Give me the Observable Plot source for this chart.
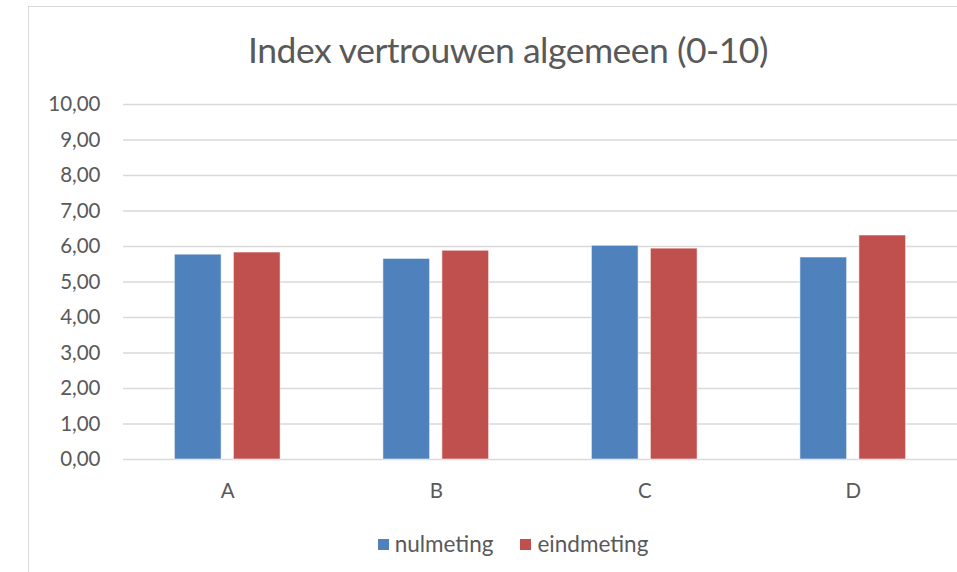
<!DOCTYPE html>
<html>
<head>
<meta charset="utf-8">
<script src="https://cdn.jsdelivr.net/npm/d3@7"></script>
<script src="https://cdn.jsdelivr.net/npm/@observablehq/plot@0.6"></script>
<style>
  html, body { margin: 0; padding: 0; background: #fff; }
  #wrap { position: relative; width: 957px; height: 572px; overflow: hidden; font-family: Lato, "Open Sans", sans-serif; }
  #frame { position: absolute; left: 28px; top: 6px; width: 1000px; height: 600px; border-left: 1.5px solid #d9d9d9; border-top: 1.5px solid #d9d9d9; box-sizing: border-box; }
  #chart { position: absolute; left: 0; top: 0; }
  #title { position: absolute; left: 0; width: 1016px; top: 30px; text-align: center; font-size: 35.5px; letter-spacing: -0.5px; color: #595959; line-height: 40px; }
  #legend { position: absolute; left: 0; width: 1026px; top: 531px; display: flex; justify-content: center; gap: 27px; font-size: 22.5px; color: #595959; line-height: 26px; }
  .item { display: flex; align-items: center; gap: 6px; }
  .sw { width: 11px; height: 11px; display: inline-block; }
</style>
</head>
<body>
<div id="wrap">
  <div id="frame"></div>
  <div id="chart"></div>
  <div id="title">Index vertrouwen algemeen (0-10)</div>
  <div id="legend"></div>
</div>
<script>
const categories = ["A", "B", "C", "D"];
const nulmeting = [5.77, 5.65, 6.02, 5.69];
const eindmeting = [5.83, 5.88, 5.94, 6.31];
const seriesNames = ["nulmeting", "eindmeting"];
const seriesColors = ["#4F81BD", "#C0504D"];
const yTicks = [0, 1, 2, 3, 4, 5, 6, 7, 8, 9, 10];

const dataN = categories.map((c, i) => ({category: c, value: nulmeting[i]}));
const dataE = categories.map((c, i) => ({category: c, value: eindmeting[i]}));

const fmt = d => d.toFixed(2).replace(".", ",");
const gapHalf = 59;

const chart = Plot.plot({
  width: 957,
  height: 572,
  marginLeft: 123,
  marginRight: 0,
  marginTop: 104,
  marginBottom: 113,
  style: {fontFamily: "Lato, 'Open Sans', sans-serif", color: "#595959", background: "transparent", overflow: "visible"},
  x: {domain: categories, paddingInner: 0.493, paddingOuter: 0.2465, round: false, label: null},
  y: {domain: [0, 10], label: null},
  marks: [
    Plot.ruleY(yTicks, {stroke: "#d9d9d9", strokeWidth: 1.5}),
    Plot.barY(dataN, {x: "category", y: "value", fill: seriesColors[0], stroke: "#ffffff", strokeOpacity: 0.55, strokeWidth: 1, insetRight: gapHalf}),
    Plot.barY(dataE, {x: "category", y: "value", fill: seriesColors[1], stroke: "#ffffff", strokeOpacity: 0.55, strokeWidth: 1, insetLeft: gapHalf}),
    Plot.axisY({ticks: yTicks, tickSize: 0, tickPadding: 23, tickFormat: fmt, fontSize: 20.5, label: null, fill: "#595959"}),
    Plot.axisX({tickSize: 0, tickPadding: 24, fontSize: 20.5, label: null, fill: "#595959"})
  ]
});
document.getElementById("chart").appendChild(chart);

const legend = document.getElementById("legend");
seriesNames.forEach((name, i) => {
  const item = document.createElement("div");
  item.className = "item";
  const sw = document.createElement("span");
  sw.className = "sw";
  sw.style.background = seriesColors[i];
  const label = document.createElement("span");
  label.textContent = name;
  item.appendChild(sw);
  item.appendChild(label);
  legend.appendChild(item);
});
</script>
</body>
</html>
